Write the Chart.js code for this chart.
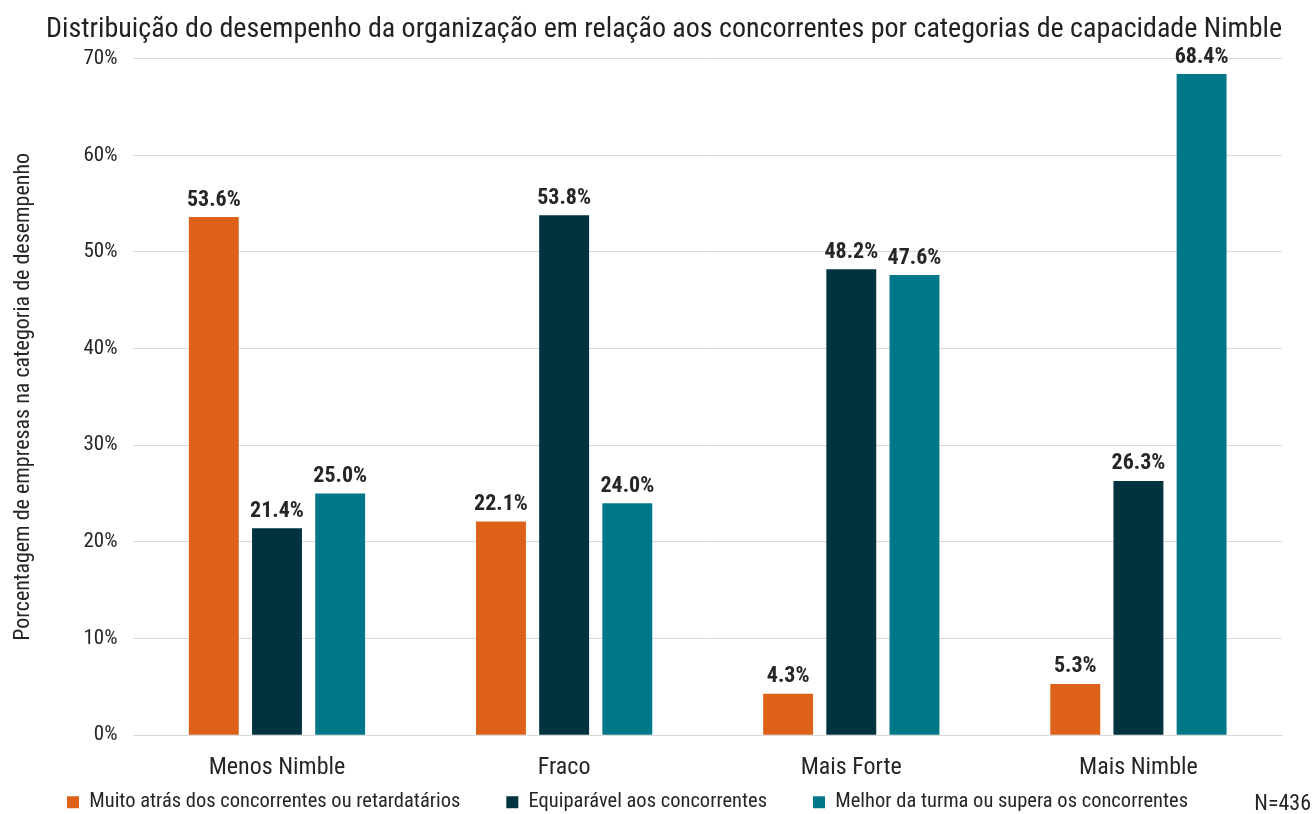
<!DOCTYPE html>
<html>
<head>
<meta charset="utf-8">
<script src="https://cdn.jsdelivr.net/npm/chart.js@4/dist/chart.umd.min.js"></script>
<style>
  html, body { margin: 0; padding: 0; background: #fff; }
  #wrap { width: 1316px; height: 814px; position: relative; }
</style>
</head>
<body>
<div id="wrap"><canvas id="chart"></canvas></div>
<script>
const FONT = "'Roboto Condensed', 'Liberation Sans Narrow', Roboto, sans-serif";

const categories = ['Menos Nimble', 'Fraco', 'Mais Forte', 'Mais Nimble'];
const seriesNames = [
  'Muito atrás dos concorrentes ou retardatários',
  'Equiparável aos concorrentes',
  'Melhor da turma ou supera os concorrentes'
];
const atrasValues = [53.6, 22.1, 4.3, 5.3];
const equiparavelValues = [21.4, 53.8, 48.2, 26.3];
const melhorValues = [25.0, 24.0, 47.6, 68.4];
const seriesColors = ['#DD6119', '#01323F', '#00788A'];
const yTicks = [0, 10, 20, 30, 40, 50, 60, 70];
const sampleNote = 'N=436';

// rótulos de valor acima das barras
const valueLabels = {
  id: 'valueLabels',
  afterDatasetsDraw(chart) {
    const ctx = chart.ctx;
    ctx.save();
    ctx.font = `bold 22px ${FONT}`;
    ctx.fillStyle = '#262626';
    ctx.textAlign = 'center';
    ctx.textBaseline = 'bottom';
    chart.data.datasets.forEach((ds, i) => {
      chart.getDatasetMeta(i).data.forEach((bar, j) => {
        ctx.fillText(ds.data[j].toFixed(1) + '%', bar.x, bar.y - 6);
      });
    });
    ctx.restore();
  }
};

// nota N=436 no canto inferior direito
const sampleLabel = {
  id: 'sampleLabel',
  afterDraw(chart) {
    const ctx = chart.ctx;
    ctx.save();
    ctx.font = `22px ${FONT}`;
    ctx.fillStyle = '#262626';
    ctx.textAlign = 'right';
    ctx.textBaseline = 'middle';
    ctx.fillText(sampleNote, chart.width - 5, 804);
    ctx.restore();
  }
};

// legenda: ocupa pouco espaço no layout, depois é deslocada para cima/direita
const legendShift = {
  id: 'legendShift',
  afterLayout(chart) {
    const lg = chart.legend;
    lg.top -= 46;
    lg.bottom = chart.height;
    lg.height = lg.bottom - lg.top;
    lg.left += 11;
  }
};

const ctx = document.getElementById('chart').getContext('2d');
new Chart(ctx, {
  type: 'bar',
  data: {
    labels: categories,
    datasets: [
      { label: seriesNames[0], data: atrasValues, backgroundColor: seriesColors[0] },
      { label: seriesNames[1], data: equiparavelValues, backgroundColor: seriesColors[1] },
      { label: seriesNames[2], data: melhorValues, backgroundColor: seriesColors[2] }
    ]
  },
  options: {
    responsive: true,
    maintainAspectRatio: false,
    animation: false,
    layout: { padding: { left: 10, right: 34, top: 0, bottom: 0 } },
    datasets: { bar: { categoryPercentage: 0.66, barPercentage: 0.79 } },
    plugins: {
      title: {
        display: true,
        align: 'end',
        text: 'Distribuição do desempenho da organização em relação aos concorrentes por categorias de capacidade Nimble',
        color: '#222',
        font: { family: FONT, size: 28, weight: 'normal' },
        padding: { top: 13, bottom: 12 }
      },
      legend: {
        position: 'bottom',
        align: 'start',
        maxHeight: 22,
        labels: {
          color: '#262626',
          font: { family: FONT, size: 20.5 },
          boxWidth: 12,
          boxHeight: 12,
          padding: 46
        }
      },
      tooltip: { enabled: false }
    },
    scales: {
      x: {
        grid: { display: false },
        border: { color: '#d9d9d9' },
        ticks: { color: '#262626', font: { family: FONT, size: 24 }, padding: 10 }
      },
      y: {
        min: 0,
        max: 70,
        afterBuildTicks(scale) { scale.ticks = yTicks.map(v => ({ value: v })); },
        grid: { color: '#d9d9d9', drawTicks: false },
        border: { display: false },
        ticks: {
          color: '#262626',
          font: { family: FONT, size: 21 },
          padding: 16,
          callback: v => v + '%'
        },
        title: {
          display: true,
          text: 'Porcentagem de empresas na categoria de desempenho',
          color: '#262626',
          font: { family: FONT, size: 22 },
          padding: { top: 0, bottom: 31 }
        }
      }
    }
  },
  plugins: [valueLabels, sampleLabel, legendShift]
});
</script>
</body>
</html>
